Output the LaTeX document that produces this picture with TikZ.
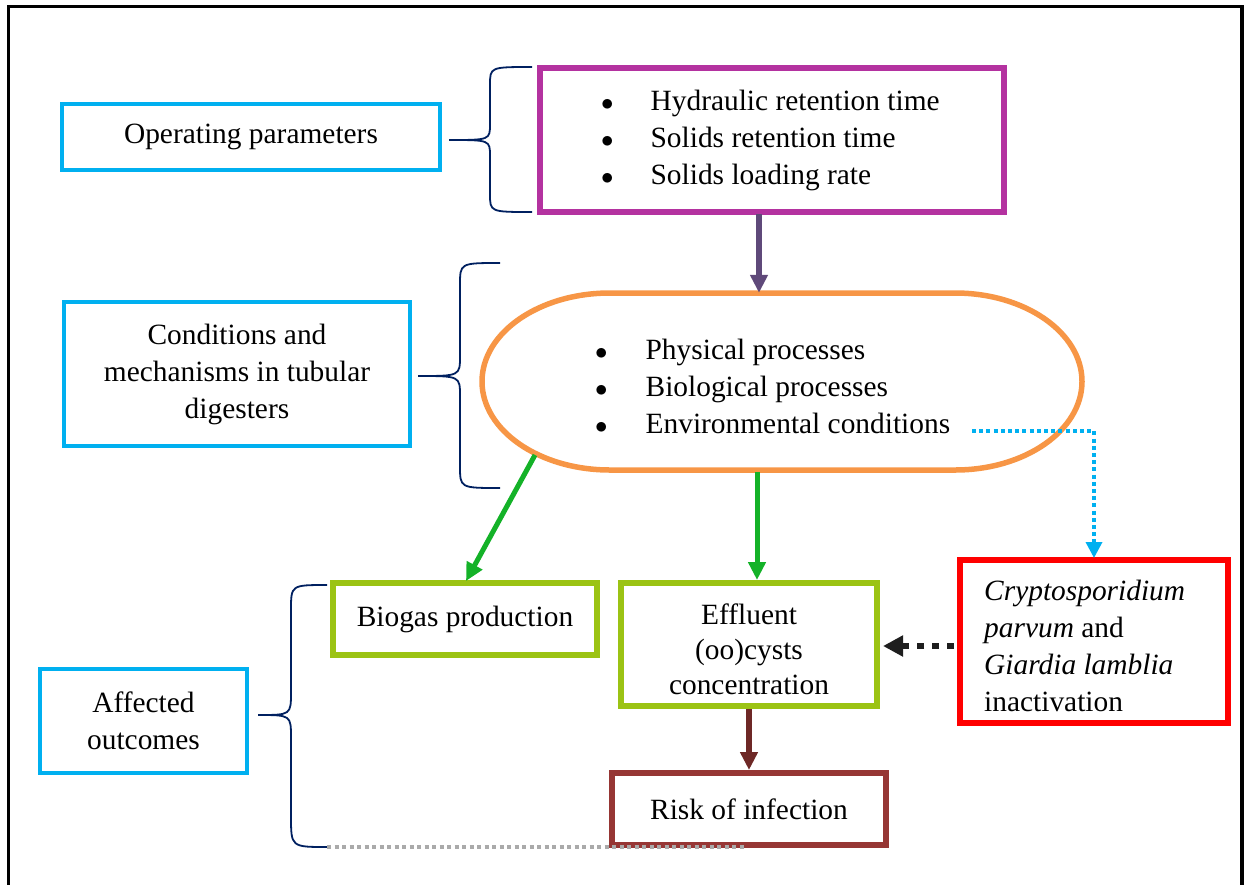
\documentclass[tikz,border=0pt]{standalone}
\usepackage{fontspec}
\setmainfont{Liberation Serif}
\usetikzlibrary{arrows.meta}
\definecolor{cyanb}{RGB}{0,176,240}
\definecolor{purp}{RGB}{180,50,160}
\definecolor{arrpurp}{RGB}{95,73,122}
\definecolor{orng}{RGB}{247,150,70}
\definecolor{grn}{RGB}{20,178,40}
\definecolor{ygrn}{RGB}{155,195,20}
\definecolor{redb}{RGB}{255,0,0}
\definecolor{brn}{RGB}{150,54,52}
\definecolor{darkbrn}{RGB}{110,40,38}
\definecolor{navy}{RGB}{0,32,96}
\definecolor{dotgray}{RGB}{170,170,170}
\definecolor{dotblack}{RGB}{30,30,30}
\newcommand{\bigbul}{$\bullet$}
\begin{document}
\begin{tikzpicture}[x=1pt,y=-1pt,
  every node/.style={font=\fontsize{29.4}{37}\selectfont, inner sep=0pt},
  labelbox/.style={draw=cyanb, line width=3.5pt, align=center},
  thickbox/.style={line width=6pt, align=center},
  brace/.style={draw=navy, line width=1.8pt},
  tip/.style={-{Triangle[length=18pt,width=17pt]}}
]
\useasboundingbox (0,0) rectangle (1244,884);
% frame
\draw[line width=3.5pt] (8.5,900) -- (8.5,6.5) -- (1242,6.5) -- (1242,900);

% label boxes
\node[labelbox, minimum width=378, minimum height=66] (op) at (251,137) {Operating parameters};
\node[labelbox, minimum width=346, minimum height=144] (cond) at (237,374) {Conditions and\\mechanisms in tubular\\digesters};
\node[labelbox, minimum width=207, minimum height=104] (aff) at (143.5,721) {Affected\\outcomes};

% parameters box
\node[thickbox, draw=purp, minimum width=464, minimum height=144] (par) at (772,140) {};
\node[anchor=west, align=left] (partext) at (601,140) {%
  \begin{tabular}{@{}l@{\hspace{37pt}}l@{}}
  \bigbul & Hydraulic retention time\\
  \bigbul & Solids retention time\\
  \bigbul & Solids loading rate
  \end{tabular}};

% processes stadium
\node[minimum width=600, minimum height=177] (proc) at (782,381.5) {};
\draw[orng, line width=5.5pt] (610,293) -- (955,293)
  arc[start angle=-90, end angle=90, x radius=127, y radius=88.5]
  -- (610,470)
  arc[start angle=90, end angle=270, x radius=128, y radius=88.5] -- cycle;
\node[anchor=west, align=left] (proctext) at (595,389) {%
  \begin{tabular}{@{}l@{\hspace{38pt}}l@{}}
  \bigbul & Physical processes\\
  \bigbul & Biological processes\\
  \bigbul & Environmental conditions
  \end{tabular}};

% outcome boxes
\node[thickbox, draw=ygrn, minimum width=264, minimum height=72] (bio) at (465,619) {Biogas production};
\node[thickbox, draw=ygrn, minimum width=256, minimum height=123] (eff) at (749,644.5) {};
\node (efftext) at (749,649) [align=center, font=\fontsize{29.4}{35}\selectfont] {Effluent\\(oo)cysts\\concentration};
\node[thickbox, draw=redb, minimum width=268, minimum height=163] (red) at (1094,641.5) {};
\node[anchor=west, align=left] (redtext) at (984,645.5) {\textit{Cryptosporidium}\\\textit{parvum} and\\\textit{Giardia lamblia}\\inactivation};
\node[thickbox, draw=brn, minimum width=274, minimum height=72] (risk) at (749,809) {Risk of infection};

% arrows
\coordinate (pa) at (759,214);
\draw[arrpurp, line width=5.5pt, tip] (pa) -- (pa |- proc.north);
\coordinate (g1s) at (535,455);
\coordinate (g1e) at (466,581);
\draw[grn, line width=5pt, tip] (g1s) -- (g1e);
\coordinate (g2s) at (757,472);
\draw[grn, line width=5pt, tip] (g2s) -- (g2s |- bio.north);
\coordinate (cs) at (972,431);
\draw[cyanb, line width=3.5pt, dash pattern=on 4pt off 3.2pt, -{Triangle[length=16pt,width=16pt]}] (cs) -| ([yshift=-1pt]red.north);
\draw[dotblack, line width=6pt, dash pattern=on 7pt off 8pt, -{Triangle[length=20pt,width=20pt]}] ([xshift=-3pt]red.west |- 0,646) -- ([xshift=3pt]eff.east |- 0,646);
\draw[darkbrn, line width=5.5pt, tip] (eff.south -| 749,0) -- (risk.north);

% braces
\draw[brace] (532,67) .. controls (490,67) .. (490,85) -- (490,124)
  .. controls (490,140) .. (449,140) .. controls (490,140) .. (490,156)
  -- (490,194) .. controls (490,212) .. (532,212);
\draw[brace] (500,263) .. controls (460,263) .. (460,285) -- (460,356)
  .. controls (460,376) .. (418,376) .. controls (460,376) .. (460,396)
  -- (460,466) .. controls (460,488) .. (500,488);
\draw[brace] (327,585) .. controls (291,585) .. (291,610) -- (291,692)
  .. controls (291,715) .. (258,715) .. controls (291,715) .. (291,738)
  -- (291,816) .. controls (291,847) .. (327,847) coordinate (bend);
\coordinate (gend) at (745,847);
\draw[dotgray, line width=3.5pt, dash pattern=on 4pt off 3.5pt] (bend) -- (gend);
\end{tikzpicture}
\end{document}
